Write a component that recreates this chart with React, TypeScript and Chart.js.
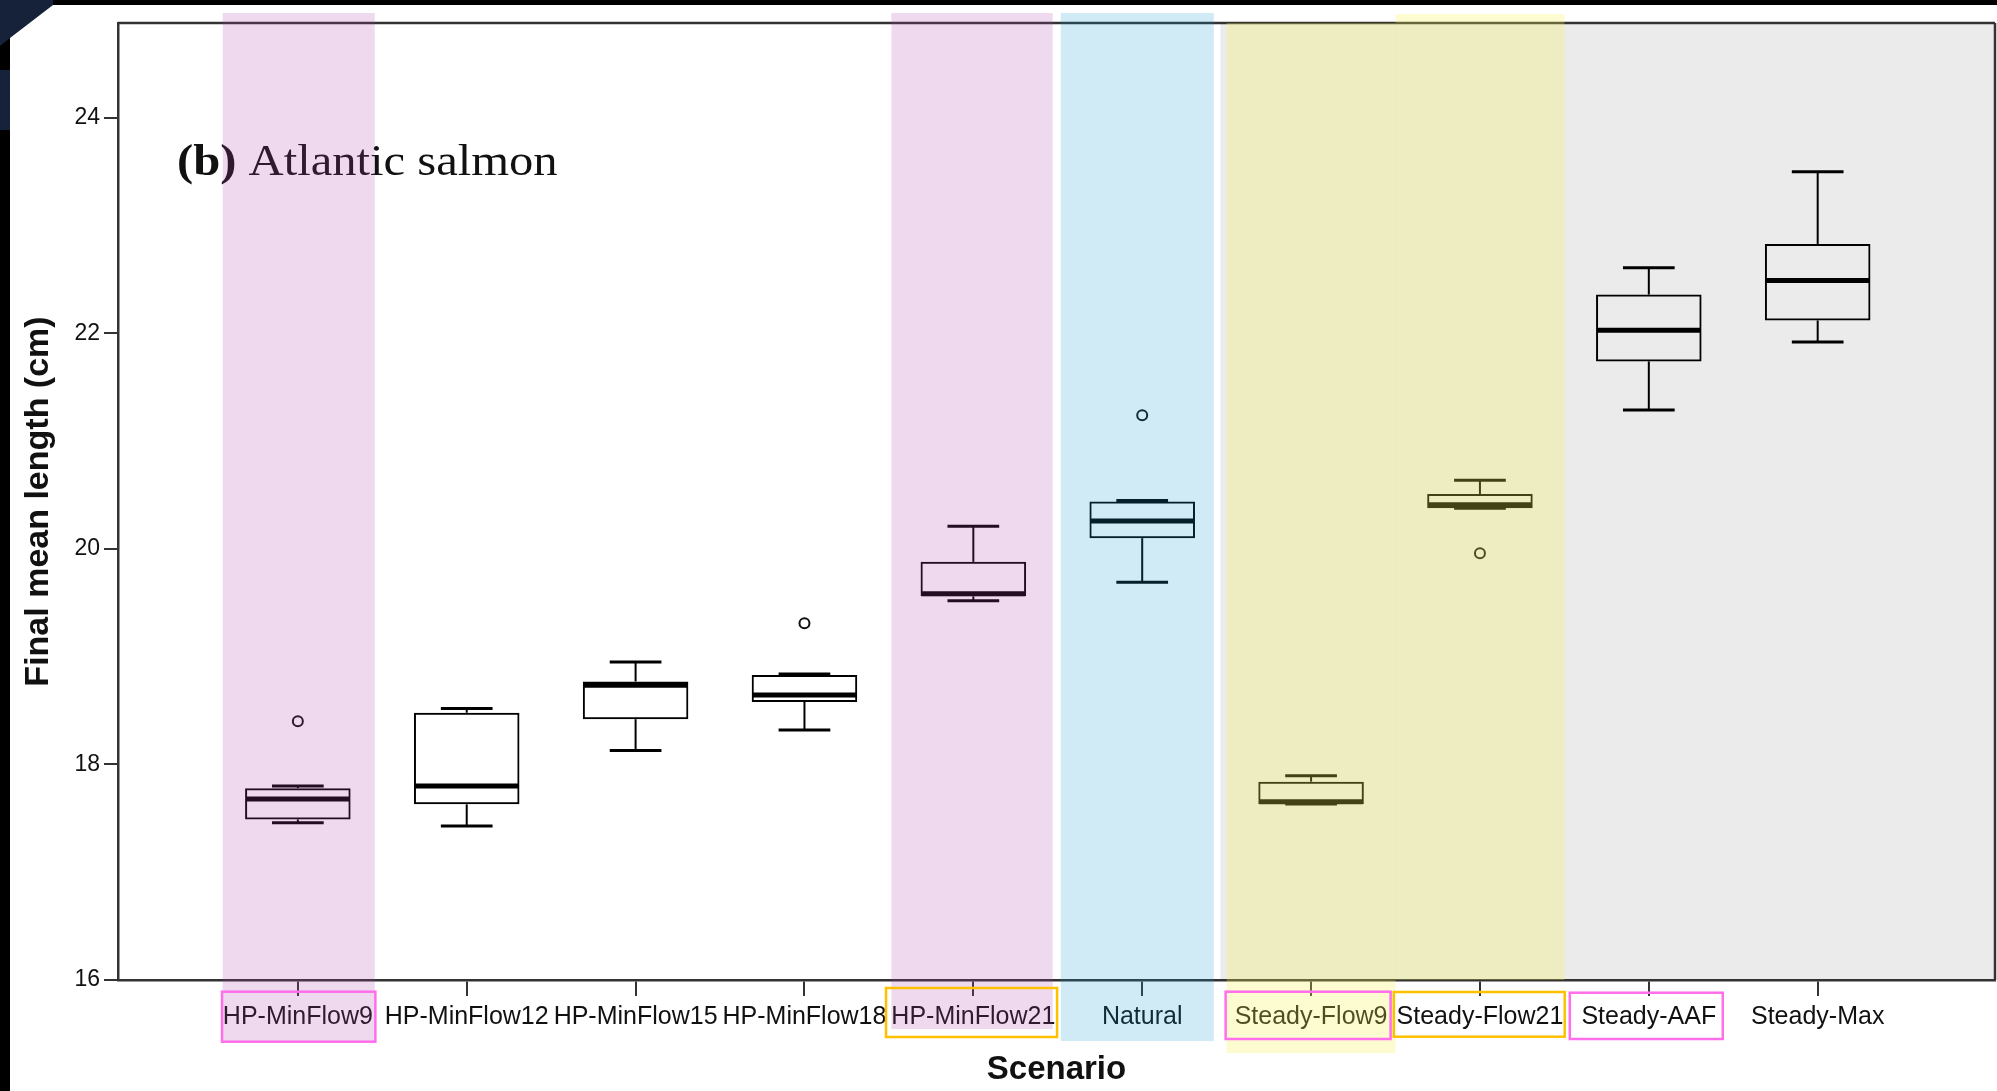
import React, { useEffect, useRef } from 'react';
import { Chart, registerables } from 'chart.js';

Chart.register(...registerables);

// ---------------- data ----------------
const categories = [
  'HP-MinFlow9',
  'HP-MinFlow12',
  'HP-MinFlow15',
  'HP-MinFlow18',
  'HP-MinFlow21',
  'Natural',
  'Steady-Flow9',
  'Steady-Flow21',
  'Steady-AAF',
  'Steady-Max',
];
const whiskerLow = [17.46, 17.43, 18.13, 18.32, 19.52, 19.69, 17.633, 20.377, 21.29, 21.92];
const quartile1 = [17.49, 17.63, 18.42, 18.58, 19.56, 20.10, 17.633, 20.377, 21.74, 22.12];
const medians = [17.68, 17.80, 18.735, 18.645, 19.585, 20.26, 17.654, 20.41, 22.03, 22.49];
const quartile3 = [17.78, 18.48, 18.77, 18.83, 19.88, 20.44, 17.84, 20.51, 22.36, 22.83];
const whiskerHigh = [17.80, 18.52, 18.95, 18.84, 20.21, 20.45, 17.895, 20.637, 22.61, 23.50];
const outlierCategory = [0, 3, 5, 7];
const outlierValue = [18.40, 19.31, 21.24, 19.96];
const yTicks = [16, 18, 20, 22, 24];

const panelLetter = '(b)';
const panelName = ' Atlantic salmon';
const xTitle = 'Scenario';
const yTitle = 'Final mean length (cm)';

// ---------------- decoration (category units / pixel offsets) ----------------
const PINK = 'rgba(170,65,170,0.2)';
const BLUE = 'rgba(20,155,210,0.2)';
const YELLOW = 'rgba(245,245,80,0.27)';
const bands = [
  { from: -0.445, to: 0.455, color: PINK, topExt: 10, bottomExt: 61 },
  { from: 3.515, to: 4.47, color: PINK, topExt: 10, bottomExt: 49 },
  { from: 4.518, to: 5.424, color: BLUE, topExt: 10, bottomExt: 61 },
  { from: 5.5, to: 6.5, color: YELLOW, topExt: 0, bottomExt: 73 },
  { from: 6.5, to: 7.5, color: YELLOW, topExt: 9, bottomExt: 0 },
];
const grayFrom = 5.463;
const MAGENTA = '#FF6EEB';
const ORANGE = '#FFC000';
const labelBoxes = [
  { from: -0.449, to: 0.459, top: 11.7, bottom: 61.7, color: MAGENTA },
  { from: 3.483, to: 4.496, top: 8, bottom: 57, color: ORANGE },
  { from: 5.494, to: 6.471, top: 11.7, bottom: 59, color: MAGENTA },
  { from: 6.49, to: 7.502, top: 12, bottom: 56.7, color: ORANGE },
  { from: 7.532, to: 8.438, top: 12.7, bottom: 59, color: MAGENTA },
];

const SANS = '"Liberation Sans", Arial, sans-serif';
const SERIF = '"Liberation Serif", "Times New Roman", serif';

const decorPlugin = {
  id: 'decor',
  beforeDraw(chart: any) {
    const { ctx, width, height, chartArea, scales } = chart;
    ctx.save();
    ctx.fillStyle = '#ffffff';
    ctx.fillRect(0, 0, width, height);
    const gx = scales.x.getPixelForValue(grayFrom);
    ctx.fillStyle = '#EBEBEB';
    ctx.fillRect(gx, chartArea.top, chartArea.right - gx, chartArea.bottom - chartArea.top);
    // dark screen edges
    ctx.fillStyle = '#000000';
    ctx.fillRect(0, 0, width, 5);
    ctx.fillRect(0, 0, 10, height);
    ctx.fillStyle = '#16213a';
    ctx.beginPath();
    ctx.moveTo(0, 0);
    ctx.lineTo(53, 0);
    ctx.lineTo(53, 5);
    ctx.lineTo(10, 38);
    ctx.lineTo(0, 46);
    ctx.closePath();
    ctx.fill();
    ctx.fillRect(0, 70, 10, 60);
    ctx.restore();
  },
  afterDatasetsDraw(chart: any) {
    const { ctx, chartArea, scales } = chart;
    const x = scales.x;
    const y = scales.y;
    const meta = chart.getDatasetMeta(0);
    ctx.save();
    ctx.strokeStyle = '#000000';
    ctx.lineCap = 'butt';
    const line = (x1: number, y1: number, x2: number, y2: number, w: number) => {
      ctx.lineWidth = w;
      ctx.beginPath();
      ctx.moveTo(x1, y1);
      ctx.lineTo(x2, y2);
      ctx.stroke();
    };
    categories.forEach((_, i) => {
      const bar = meta.data[i] as any;
      const xc = x.getPixelForValue(i);
      const half = bar.width / 2;
      const capHalf = half * 0.49;
      const yLow = y.getPixelForValue(whiskerLow[i]);
      const yQ1 = y.getPixelForValue(quartile1[i]);
      const yMed = y.getPixelForValue(medians[i]);
      const yQ3 = y.getPixelForValue(quartile3[i]);
      const yHigh = y.getPixelForValue(whiskerHigh[i]);
      line(xc, yQ3, xc, yHigh, 2);
      line(xc, yQ1, xc, yLow, 2);
      line(xc - capHalf, yHigh, xc + capHalf, yHigh, 3);
      line(xc - capHalf, yLow, xc + capHalf, yLow, 3);
      line(xc - half + 1, yMed, xc + half - 1, yMed, 5);
    });
    // top and right frame
    ctx.strokeStyle = '#333333';
    line(chartArea.left, chartArea.top, chartArea.right, chartArea.top, 2.5);
    line(chartArea.right, chartArea.top, chartArea.right, chartArea.bottom, 2.5);
    // panel label
    ctx.save();
    ctx.translate(chartArea.left + 59, chartArea.top + 152);
    ctx.scale(1.08, 1);
    ctx.fillStyle = '#111111';
    ctx.textBaseline = 'alphabetic';
    ctx.textAlign = 'left';
    ctx.font = `bold 45px ${SERIF}`;
    ctx.fillText(panelLetter, 0, 0);
    const w = ctx.measureText(panelLetter).width;
    ctx.font = `45px ${SERIF}`;
    ctx.fillText(panelName, w, 0);
    ctx.restore();
    ctx.restore();
  },
  afterDraw(chart: any) {
    const { ctx, chartArea, scales } = chart;
    const x = scales.x;
    ctx.save();
    bands.forEach((b) => {
      const x1 = x.getPixelForValue(b.from);
      const x2 = x.getPixelForValue(b.to);
      const t = chartArea.top - b.topExt;
      const bt = chartArea.bottom + b.bottomExt;
      ctx.fillStyle = b.color;
      ctx.fillRect(x1, t, x2 - x1, bt - t);
    });
    ctx.lineWidth = 2.5;
    labelBoxes.forEach((lb) => {
      const x1 = x.getPixelForValue(lb.from);
      const x2 = x.getPixelForValue(lb.to);
      ctx.strokeStyle = lb.color;
      ctx.strokeRect(x1, chartArea.bottom + lb.top, x2 - x1, lb.bottom - lb.top);
    });
    ctx.restore();
  },
};

export default function App() {
  const ref = useRef<HTMLCanvasElement>(null);

  useEffect(() => {
    document.body.style.margin = '0';
    document.body.style.overflow = 'hidden';
    const canvas = ref.current;
    if (!canvas) return;
    const chart = new Chart(canvas, {
      type: 'bar',
      data: {
        datasets: [
          {
            type: 'bar',
            data: categories.map((_, i) => ({ x: i, y: [quartile1[i], quartile3[i]] })) as any,
            backgroundColor: 'rgba(0,0,0,0)',
            borderColor: '#000000',
            borderWidth: 2,
            borderSkipped: false,
            barPercentage: 0.625,
            categoryPercentage: 1,
          } as any,
          {
            type: 'scatter',
            data: outlierCategory.map((c, i) => ({ x: c, y: outlierValue[i] })),
            pointRadius: 5,
            pointBorderWidth: 2,
            borderColor: '#111111',
            backgroundColor: 'rgba(0,0,0,0)',
            pointBackgroundColor: 'rgba(0,0,0,0)',
            pointBorderColor: '#111111',
            showLine: false,
          } as any,
        ],
      },
      options: {
        responsive: false,
        animation: false,
        events: [],
        devicePixelRatio: 1,
        layout: { autoPadding: false, padding: { left: 10, top: 23, right: 2, bottom: 0 } },
        plugins: {
          legend: { display: false },
          tooltip: { enabled: false },
          title: { display: false },
        },
        scales: {
          x: {
            type: 'linear',
            min: -1.065,
            max: 10.05,
            offset: false,
            afterBuildTicks: (axis: any) => {
              axis.ticks = categories.map((_, i) => ({ value: i }));
            },
            afterFit: (scale: any) => {
              scale.height = 111;
              scale.paddingLeft = 0;
              scale.paddingRight = 0;
            },
            ticks: {
              autoSkip: false,
              maxRotation: 0,
              minRotation: 0,
              padding: 6,
              color: '#111111',
              font: { family: SANS, size: 25 },
              callback: (v: any) => categories[Math.round(Number(v))] ?? '',
            },
            grid: {
              offset: false,
              drawOnChartArea: false,
              drawTicks: true,
              tickLength: 16,
              color: '#333333',
              lineWidth: 2,
            },
            border: { display: true, color: '#333333', width: 2.5 },
            title: {
              display: true,
              text: xTitle,
              color: '#111111',
              font: { family: SANS, size: 33, weight: 'bold' },
              padding: { top: 0, bottom: 1 },
            },
          },
          y: {
            type: 'linear',
            min: 16,
            max: 24.88,
            afterBuildTicks: (axis: any) => {
              axis.ticks = yTicks.map((v) => ({ value: v }));
            },
            afterFit: (scale: any) => {
              scale.width = 108;
              scale.paddingTop = 0;
              scale.paddingBottom = 0;
            },
            ticks: {
              padding: 4,
              color: '#111111',
              font: { family: SANS, size: 23 },
              callback: (v: any) => String(v),
            },
            grid: {
              drawOnChartArea: false,
              drawTicks: true,
              tickLength: 14,
              color: '#333333',
              lineWidth: 2,
            },
            border: { display: true, color: '#333333', width: 2.5 },
            title: {
              display: true,
              text: yTitle,
              color: '#111111',
              font: { family: SANS, size: 34, weight: 'bold' },
              padding: { top: 8, bottom: 0 },
            },
          },
        },
      } as any,
      plugins: [decorPlugin],
    });
    return () => chart.destroy();
  }, []);

  return (
    <div style={{ position: 'fixed', left: 0, top: 0, width: 1997, height: 1091 }}>
      <canvas ref={ref} width={1997} height={1091} style={{ display: 'block', width: 1997, height: 1091 }} />
    </div>
  );
}
